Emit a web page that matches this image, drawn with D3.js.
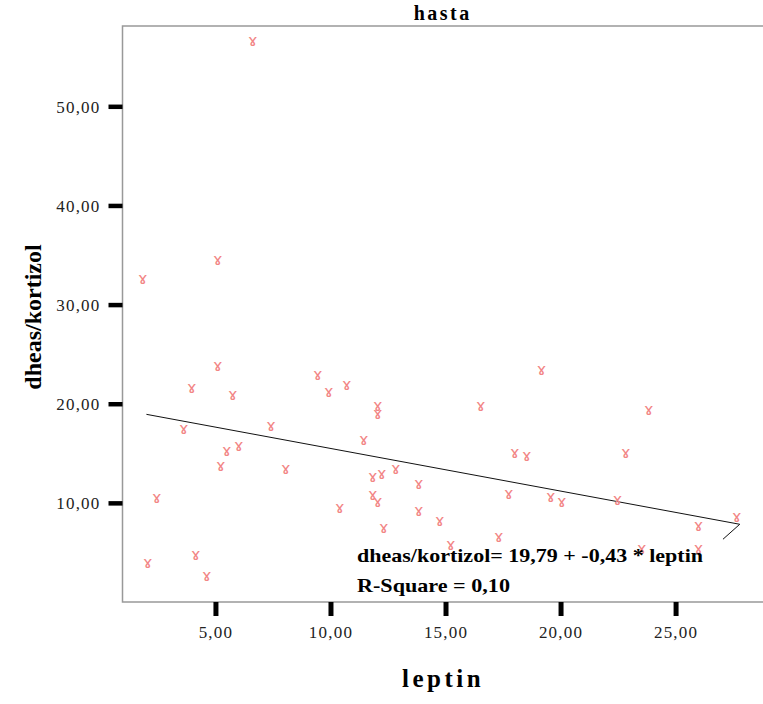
<!DOCTYPE html>
<html>
<head>
<meta charset="utf-8">
<script src="https://cdn.jsdelivr.net/npm/d3@7"></script>
<style>
  body { margin: 0; background: #fff; }
  text { font-family: 'Liberation Serif', 'Times New Roman', serif; }
</style>
</head>
<body>
<div id="chart"></div>
<script>
// leptin (x) vs dheas/kortizol (y)
const leptin = [6.62, 1.84, 5.10, 5.10, 3.97, 5.75, 9.45, 9.93, 10.71, 12.06, 12.06, 3.62, 7.41, 11.45,
  5.49, 6.01, 5.23, 8.06, 12.84, 11.84, 12.23, 19.17, 16.53, 23.83, 18.01, 18.53, 22.83, 17.75, 19.57,
  20.05, 22.48, 14.75, 26.00, 27.66, 17.31, 2.45, 2.06, 4.14, 4.62, 10.40, 11.84, 12.06, 13.84, 13.84,
  12.32, 15.23, 26.00, 23.53]
const ratio = [56.5, 32.5, 34.4, 23.8, 21.5, 20.8, 22.8, 21.1, 21.8, 19.7, 18.9, 17.4, 17.7, 16.3,
  15.2, 15.7, 13.7, 13.4, 13.4, 12.6, 12.9, 23.3, 19.7, 19.3, 15.0, 14.7, 15.0, 10.8, 10.5,
  10.0, 10.2, 8.1, 7.6, 8.5, 6.5, 10.4, 3.9, 4.7, 2.6, 9.4, 10.7, 10.0, 11.9, 9.1,
  7.4, 5.7, 5.3, 5.3]

const xTicks = [5, 10, 15, 20, 25]
const yTicks = [10, 20, 30, 40, 50]
const intercept = 19.79
const slope = -0.43
const fitRange = [2.0, 27.79]
const fitTail = [27.06, 6.33] // odd return stroke at the end of the fit line

const fmt = v => d3.format('.2f')(v).replace('.', ',').replace('\u2212', '-')

const W = 763
const H = 704
const margin = { top: 26, right: 0, bottom: 102, left: 122.5 }

const svg = d3.select('#chart').append('svg')
  .attr('width', W)
  .attr('height', H)

const x = d3.scaleLinear()
  .domain([0.96, 28.8])
  .range([margin.left, W - margin.right])

const y = d3.scaleLinear()
  .domain([0, 58.1])
  .range([H - margin.bottom, margin.top])

// frame
svg.append('path')
  .attr('d', `M${W},${y(58.1)}H${x(0.96)}V${y(0)}H${W}`)
  .attr('fill', 'none')
  .attr('stroke', '#999')
  .attr('stroke-width', 1.5)

// y axis
const yAxis = svg.append('g')
  .attr('transform', 'translate(' + x(0.96) + ',0)')
  .call(d3.axisLeft(y).tickValues(yTicks).tickSize(14).tickPadding(8).tickFormat(fmt))
yAxis.select('.domain').remove()
yAxis.selectAll('.tick line').attr('stroke', '#000').attr('stroke-width', 4.5)
yAxis.selectAll('.tick text')
  .attr('fill', '#222')
  .style('font-size', '17px')
  .style('letter-spacing', '1.2px')
  .attr('dy', '0.35em')

// x axis
const xAxis = svg.append('g')
  .attr('transform', 'translate(0,' + y(0) + ')')
  .call(d3.axisBottom(x).tickValues(xTicks).tickSize(14).tickPadding(10).tickFormat(fmt))
xAxis.select('.domain').remove()
xAxis.selectAll('.tick line').attr('stroke', '#000').attr('stroke-width', 5)
xAxis.selectAll('.tick text')
  .attr('fill', '#222')
  .style('font-size', '17px')
  .style('letter-spacing', '1.2px')

// fit line
const fit = fitRange.map(v => [v, intercept + slope * v])
fit.push(fitTail)
svg.append('path')
  .attr('d', d3.line().x(d => x(d[0])).y(d => y(d[1]))(fit))
  .attr('fill', 'none')
  .attr('stroke', '#111')
  .attr('stroke-width', 1)

// points: SPSS draws them as a font glyph; "ɤ" is the nearest shape the installed fonts have
svg.append('g')
  .selectAll('text')
  .data(leptin.map((v, i) => [v, ratio[i]]))
  .join('text')
  .attr('x', d => x(d[0]))
  .attr('y', d => y(d[1]))
  .attr('text-anchor', 'middle')
  .attr('dy', '0.28em')
  .style('font-family', "'DejaVu Sans', sans-serif")
  .style('font-size', '16px')
  .attr('fill', '#f28585')
  .text('\u0264')

// equation
svg.append('text')
  .attr('x', 357)
  .attr('y', 562)
  .attr('textLength', 346)
  .attr('lengthAdjust', 'spacingAndGlyphs')
  .style('font-size', '19px')
  .style('font-weight', 'bold')
  .text('dheas/kortizol= ' + fmt(intercept) + ' + ' + fmt(slope) + ' * leptin')

svg.append('text')
  .attr('x', 357)
  .attr('y', 592)
  .attr('textLength', 153)
  .attr('lengthAdjust', 'spacingAndGlyphs')
  .style('font-size', '19px')
  .style('font-weight', 'bold')
  .text('R-Square = 0,10')

// titles
svg.append('text')
  .attr('x', (x(0.96) + W) / 2)
  .attr('y', 20)
  .attr('text-anchor', 'middle')
  .style('font-size', '20px')
  .style('font-weight', 'bold')
  .style('letter-spacing', '2.5px')
  .text('hasta')

svg.append('text')
  .attr('x', 443)
  .attr('y', 687)
  .attr('text-anchor', 'middle')
  .style('font-size', '25px')
  .style('font-weight', 'bold')
  .style('letter-spacing', '3.5px')
  .text('leptin')

svg.append('text')
  .attr('transform', 'translate(41,317) rotate(-90)')
  .attr('text-anchor', 'middle')
  .style('font-size', '24px')
  .style('font-weight', 'bold')
  .text('dheas/kortizol')
</script>
</body>
</html>
